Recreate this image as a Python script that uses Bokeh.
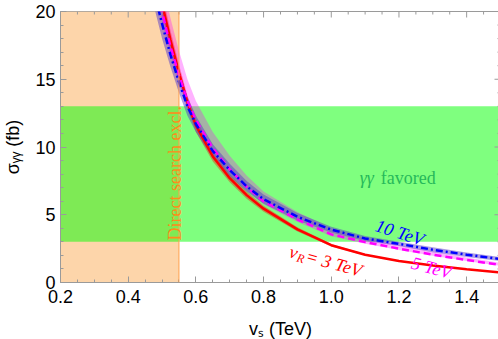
import math
from bokeh.plotting import figure
from bokeh.models import Label, Span, FixedTicker
from bokeh.embed import file_html
from bokeh.resources import INLINE

# ---- data ----
vs = [0.47, 0.48, 0.49, 0.50, 0.525, 0.55, 0.575, 0.60, 0.65, 0.70, 0.75, 0.80, 0.90, 1.00, 1.10, 1.20, 1.30, 1.40, 1.50]

sig_10 = [22.4, 21.2, 20.1, 19.1, 16.8, 14.8, 13.0, 11.7, 9.7, 8.3, 7.1, 6.15, 4.85, 3.9, 3.25, 2.85, 2.42, 2.05, 1.73]
sig_10_lo = [21.2, 20.0, 19.0, 18.0, 15.9, 14.0, 12.3, 11.1, 9.17, 7.84, 6.71, 5.81, 4.58, 3.69, 3.07, 2.69, 2.24, 1.88, 1.58]
sig_10_hi = [23.6, 22.4, 21.2, 20.2, 17.7, 15.6, 13.7, 12.3, 10.2, 8.76, 7.5, 6.49, 5.12, 4.11, 3.43, 3.0, 2.6, 2.22, 1.88]

sig_5 = [23.6, 22.3, 21.1, 20.0, 17.4, 15.3, 13.4, 12.0, 9.9, 8.35, 7.05, 6.0, 4.65, 3.55, 2.98, 2.5, 2.05, 1.66, 1.3]
sig_5_lo = [22.7, 21.4, 20.3, 19.2, 16.7, 14.7, 12.9, 11.5, 9.5, 8.02, 6.77, 5.76, 4.46, 3.41, 2.86, 2.4, 1.97, 1.59, 1.22]
sig_5_hi = [26.4, 25.0, 23.6, 22.4, 19.5, 17.1, 15.0, 13.4, 11.1, 9.35, 7.9, 6.72, 5.21, 3.98, 3.3, 2.76, 2.27, 1.84, 1.45]

sig_3 = [24.3, 23.0, 21.8, 20.6, 17.9, 15.5, 13.3, 11.6, 9.3, 7.7, 6.45, 5.45, 3.92, 2.75, 2.05, 1.58, 1.25, 0.97, 0.74]
sig_3_lo = [23.3, 22.1, 20.9, 19.8, 17.2, 14.9, 12.8, 11.1, 8.93, 7.39, 6.19, 5.23, 3.76, 2.66, 1.99, 1.54, 1.22, 0.95, 0.73]
sig_3_hi = [25.3, 23.9, 22.7, 21.4, 18.6, 16.1, 13.8, 12.1, 9.67, 8.01, 6.71, 5.67, 4.08, 2.84, 2.11, 1.62, 1.28, 0.99, 0.75]

excl_max = 0.55              # direct search exclusion (vS < 0.55 TeV)
fav_lo, fav_hi = 3.0, 13.0   # gamma-gamma favoured band (fb)

x_ticks = [0.2, 0.4, 0.6, 0.8, 1.0, 1.2, 1.4]
x_tick_labels = ["0.2", "0.4", "0.6", "0.8", "1.0", "1.2", "1.4"]
y_ticks = [0, 5, 10, 15, 20]

X0, X1, Y0, Y1 = 0.2, 1.5, 0.0, 20.0
FW, FH = 440, 271

p = figure(frame_width=FW, frame_height=FH, x_range=(X0, X1), y_range=(Y0, Y1),
           output_backend="svg", toolbar_location=None,
           min_border_left=58, min_border_right=0, min_border_top=11, min_border_bottom=56)
p.xgrid.visible = False
p.ygrid.visible = False
p.outline_line_color = "#9a9a9a"

# regions
p.quad(left=[X0], right=[excl_max], bottom=[Y0], top=[Y1], fill_color="#fdd5aa", line_color=None)
p.quad(left=[X0], right=[X1], bottom=[fav_lo], top=[fav_hi], fill_color="#00ff00", fill_alpha=0.5, line_color=None)
p.add_layout(Span(location=excl_max, dimension="height", line_color="#ffa04a", line_width=1))

# uncertainty bands
p.varea(x=vs, y1=sig_3_lo, y2=sig_3_hi, fill_color="#ff0000", fill_alpha=0.38)
p.varea(x=vs, y1=sig_5_lo, y2=sig_5_hi, fill_color="#ff00ff", fill_alpha=0.3)
p.varea(x=vs, y1=sig_10_lo, y2=sig_10_hi, fill_color="#5a3cc8", fill_alpha=0.5)

# curves
p.line(vs, sig_3, line_color="#ff0000", line_width=2.5)
p.line(vs, sig_5, line_color="#ff00ff", line_width=2.5, line_dash="7 4")
p.line(vs, sig_10, line_color="#0000ff", line_width=2.5, line_dash="7 3 2 3")

# axes
minor_x = [round(0.2 + 0.05 * i, 2) for i in range(27)]
minor_y = list(range(0, 21))
xt = FixedTicker(ticks=x_ticks, minor_ticks=minor_x)
yt = FixedTicker(ticks=y_ticks, minor_ticks=minor_y)

for ax in (p.xaxis[0], p.yaxis[0]):
    ax.axis_line_color = "#9a9a9a"
    ax.major_tick_line_color = "#9a9a9a"
    ax.minor_tick_line_color = "#9a9a9a"
    ax.major_tick_in = 6
    ax.major_tick_out = 0
    ax.minor_tick_in = 3
    ax.minor_tick_out = 0
    ax.major_label_text_font = "Liberation Sans"
    ax.major_label_text_font_size = "18px"
    ax.major_label_text_color = "black"
    ax.axis_label_text_font = "Liberation Sans"
    ax.axis_label_text_font_size = "18px"
    ax.axis_label_text_font_style = "normal"
    ax.axis_label_text_color = "black"

p.xaxis.ticker = xt
p.yaxis.ticker = yt
p.xaxis.major_label_overrides = {t: s for t, s in zip(x_ticks, x_tick_labels)}
p.xaxis.major_label_standoff = 7
p.yaxis.major_label_standoff = 5
p.xaxis.axis_label = "vₛ (TeV)"
p.yaxis.axis_label = "σᵧᵧ (fb)"
p.xaxis.axis_label_standoff = 13
p.yaxis.axis_label_standoff = 9

# mirrored tick marks on the top and right frame edges (from the tick lists)
dy_major, dy_minor = 6 * (Y1 - Y0) / FH, 3 * (Y1 - Y0) / FH
dx_major, dx_minor = 6 * (X1 - X0) / FW, 3 * (X1 - X0) / FW
tick_col = "#9a9a9a"
p.segment(x0=x_ticks, y0=[Y1] * len(x_ticks), x1=x_ticks, y1=[Y1 - dy_major] * len(x_ticks),
          line_color=tick_col, line_width=1)
mx = [m for m in minor_x if m not in x_ticks]
p.segment(x0=mx, y0=[Y1] * len(mx), x1=mx, y1=[Y1 - dy_minor] * len(mx), line_color=tick_col, line_width=1)
p.segment(x0=[X1] * len(y_ticks), y0=y_ticks, x1=[X1 - dx_major] * len(y_ticks), y1=y_ticks,
          line_color=tick_col, line_width=1)
my = [m for m in minor_y if m not in y_ticks]
p.segment(x0=[X1] * len(my), y0=my, x1=[X1 - dx_minor] * len(my), y1=my, line_color=tick_col, line_width=1)

SERIF = "Liberation Serif"

def lab(x, y, text, **kw):
    p.add_layout(Label(x=x, y=y, text=text, **kw))

# in-plot annotations
lab(0.538, 3.1, "Direct search excl.", angle=math.pi / 2, text_font=SERIF, text_font_size="18px",
    text_color="#ff8c1a", text_align="left", text_baseline="alphabetic")
lab(1.084, 7.69, "γγ", text_font=SERIF, text_font_style="italic", text_font_size="18px",
    text_color="#26b95a", text_align="left", text_baseline="alphabetic")
lab(1.084, 7.69, "favored", x_offset=21, text_font=SERIF, text_font_size="18px",
    text_color="#26b95a", text_align="left", text_baseline="alphabetic")

lab(1.2025, 3.68, "10 TeV", angle=-0.31, text_font=SERIF, text_font_style="italic",
    text_font_size="18px", text_color="#0000ff", text_align="center", text_baseline="middle")
lab(1.296, 1.09, "5 TeV", angle=-0.26, text_font=SERIF, text_font_style="italic",
    text_font_size="18px", text_color="#ff00ff", text_align="center", text_baseline="middle")

th = -0.27
c, s = math.cos(th), math.sin(th)
rx, ry = 0.8776, 2.31
lab(rx, ry, "v", angle=th, text_font=SERIF, text_font_style="italic", text_font_size="18px",
    text_color="#ff0000", text_align="left", text_baseline="alphabetic")
d, down = 8.5, 4.0
lab(rx, ry, "R", x_offset=d * c + down * s, y_offset=d * s - down * c, angle=th, text_font=SERIF,
    text_font_style="italic", text_font_size="12px", text_color="#ff0000",
    text_align="left", text_baseline="alphabetic")
d = 17.0
lab(rx, ry, "= 3 TeV", x_offset=d * c, y_offset=d * s, angle=th, text_font=SERIF,
    text_font_style="italic", text_font_size="18px", text_color="#ff0000",
    text_align="left", text_baseline="alphabetic")

open("out.html", "w").write(file_html(p, INLINE))
